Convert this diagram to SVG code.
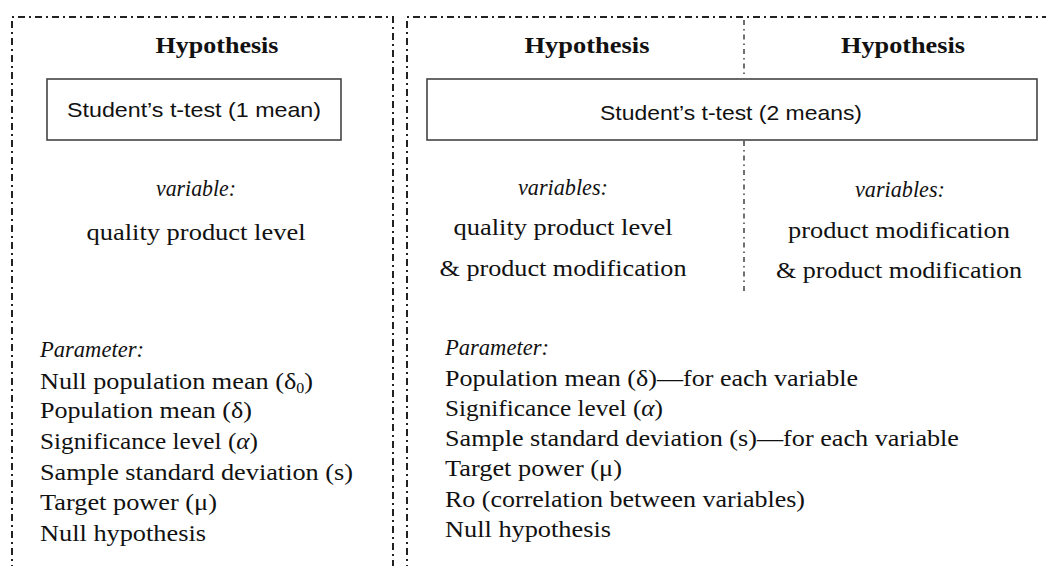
<svg xmlns="http://www.w3.org/2000/svg" width="1046" height="566" viewBox="0 0 1046 566">
<style>
.frame{fill:none;stroke:#222;stroke-width:2;stroke-dasharray:7 4 2 4}
.div{fill:none;stroke:#222;stroke-width:1.3;stroke-dasharray:5 4 1.5 4}
.box{fill:#fff;stroke:#444;stroke-width:1.6}
.t{font-family:"Liberation Serif","DejaVu Serif",serif;font-size:23px;fill:#111}
.h{font-weight:bold;text-anchor:middle}
.i{font-style:italic}
.c{text-anchor:middle}
.s{font-family:"Liberation Sans","DejaVu Sans",sans-serif;font-size:21px;fill:#111;text-anchor:middle}
</style>
<rect width="1046" height="566" fill="#fff"/>
<g id="left-panel">
<path class="frame" d="M12,572 V17 H393 V572"/>
<text class="t h" x="217" y="53" textLength="123" lengthAdjust="spacingAndGlyphs">Hypothesis</text>
</g>
<g id="right-panel">
<path class="frame" d="M407,572 V17 H1052"/>
<text class="t h" x="587" y="53" textLength="125" lengthAdjust="spacingAndGlyphs">Hypothesis</text>
<text class="t h" x="903" y="53" textLength="124" lengthAdjust="spacingAndGlyphs">Hypothesis</text>
</g>
<g id="connectors">
<path class="div" d="M744,20 V78 M744,141 V292"/>
</g>
<g id="node-ttest1">
<rect class="box" x="47" y="79" width="294" height="61"/>
<text class="s" x="194" y="117" textLength="254" lengthAdjust="spacingAndGlyphs">Student’s t-test (1 mean)</text>
</g>
<g id="node-ttest2">
<rect class="box" x="427" y="79" width="610" height="61"/>
<text class="s" x="731" y="120" textLength="262" lengthAdjust="spacingAndGlyphs">Student’s t-test (2 means)</text>
</g>
<g id="vars-left">
<text class="t i c" x="196" y="196" textLength="80" lengthAdjust="spacingAndGlyphs">variable:</text>
<text class="t c" x="196" y="240" textLength="219" lengthAdjust="spacingAndGlyphs">quality product level</text>
</g>
<g id="vars-mid">
<text class="t i c" x="563" y="195" textLength="90" lengthAdjust="spacingAndGlyphs">variables:</text>
<text class="t c" x="563" y="235" textLength="219" lengthAdjust="spacingAndGlyphs">quality product level</text>
<text class="t c" x="563" y="276" textLength="247" lengthAdjust="spacingAndGlyphs">&amp; product modification</text>
</g>
<g id="vars-right">
<text class="t i c" x="900" y="197" textLength="90" lengthAdjust="spacingAndGlyphs">variables:</text>
<text class="t c" x="899" y="238" textLength="222" lengthAdjust="spacingAndGlyphs">product modification</text>
<text class="t c" x="899" y="278" textLength="246" lengthAdjust="spacingAndGlyphs">&amp; product modification</text>
</g>
<g id="params-left">
<text class="t i" x="40" y="357" textLength="104" lengthAdjust="spacingAndGlyphs">Parameter:</text>
<text class="t" x="40" y="389" textLength="273" lengthAdjust="spacingAndGlyphs">Null population mean (δ<tspan font-size="14" dy="4">0</tspan><tspan dy="-4">)</tspan></text>
<text class="t" x="40" y="418" textLength="212" lengthAdjust="spacingAndGlyphs">Population mean (δ)</text>
<text class="t" x="40" y="449" textLength="218" lengthAdjust="spacingAndGlyphs">Significance level (<tspan font-style="italic">α</tspan>)</text>
<text class="t" x="40" y="480" textLength="313" lengthAdjust="spacingAndGlyphs">Sample standard deviation (s)</text>
<text class="t" x="40" y="510" textLength="177" lengthAdjust="spacingAndGlyphs">Target power (μ)</text>
<text class="t" x="40" y="541" textLength="166" lengthAdjust="spacingAndGlyphs">Null hypothesis</text>
</g>
<g id="params-right">
<text class="t i" x="445" y="355" textLength="104" lengthAdjust="spacingAndGlyphs">Parameter:</text>
<text class="t" x="445" y="386" textLength="413" lengthAdjust="spacingAndGlyphs">Population mean (δ)—for each variable</text>
<text class="t" x="445" y="416" textLength="218" lengthAdjust="spacingAndGlyphs">Significance level (<tspan font-style="italic">α</tspan>)</text>
<text class="t" x="445" y="446" textLength="514" lengthAdjust="spacingAndGlyphs">Sample standard deviation (s)—for each variable</text>
<text class="t" x="445" y="476" textLength="177" lengthAdjust="spacingAndGlyphs">Target power (μ)</text>
<text class="t" x="445" y="507" textLength="360" lengthAdjust="spacingAndGlyphs">Ro (correlation between variables)</text>
<text class="t" x="445" y="537" textLength="166" lengthAdjust="spacingAndGlyphs">Null hypothesis</text>
</g>
</svg>
